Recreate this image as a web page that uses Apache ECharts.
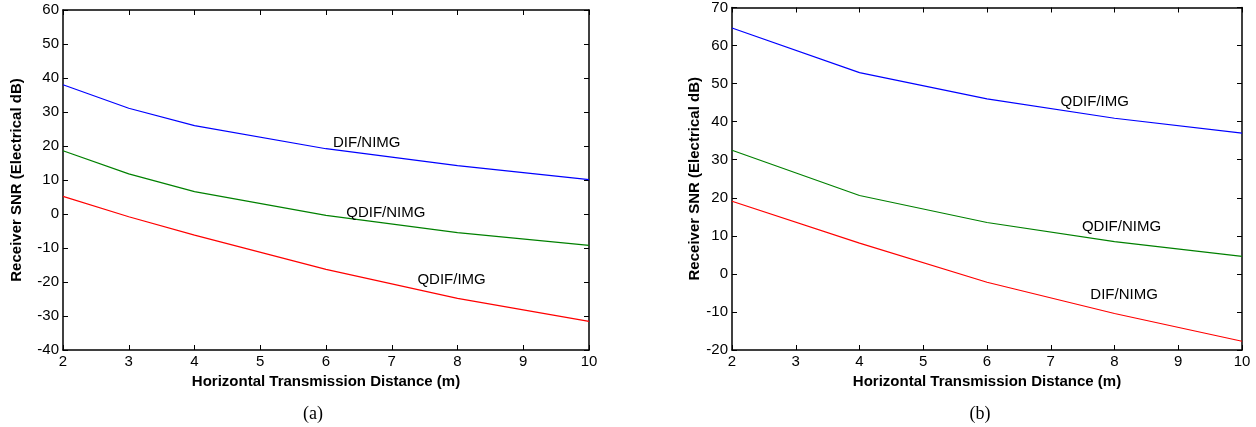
<!DOCTYPE html>
<html>
<head>
<meta charset="utf-8">
<script src="https://cdn.jsdelivr.net/npm/echarts@6/dist/echarts.min.js"></script>
<style>
  html, body { margin: 0; padding: 0; background: #fff; }
  #main { width: 1256px; height: 427px; }
</style>
</head>
<body>
<div id="main"></div>
<script>
// distances (m)
const distA = [2, 3, 4, 6, 8, 10];
const distB = [2, 4, 6, 8, 10];

// panel (a) SNR values (electrical dB)
const blueA = [38, 31.1, 26, 19.2, 14.2, 10.1];
const greenA = [18.6, 11.8, 6.6, -0.4, -5.5, -9.2];
const redA = [5.2, -0.8, -6.2, -16.3, -24.8, -31.6];

// panel (b)
const blueB = [64.6, 52.9, 46, 40.9, 37.0];
const greenB = [32.5, 20.6, 13.5, 8.5, 4.6];
const redB = [19.1, 8.1, -2.2, -10.4, -17.7];

// curve labels: [text, x, y] in data units
const labelsA = [['DIF/NIMG', 6.62, 20.9], ['QDIF/NIMG', 6.91, 0.3], ['QDIF/IMG', 7.91, -19.4]];
const labelsB = [['QDIF/IMG', 7.69, 45.1], ['QDIF/NIMG', 8.11, 12.3], ['DIF/NIMG', 8.15, -5.6]];

const xName = 'Horizontal Transmission Distance (m)';
const yName = 'Receiver SNR (Electrical dB)';
const font = 'Arial, "Liberation Sans", sans-serif';

window.onload = function () {
  const myChart = echarts.init(document.getElementById('main'));

  const pairs = (xs, ys) => xs.map((x, i) => [x, ys[i]]);

  const tick = { show: true, inside: true, length: 5, lineStyle: { color: '#000', width: 1 } };
  const line = { show: true, onZero: false, lineStyle: { color: '#000', width: 1.5 } };
  const lbl = { color: '#000', fontSize: 15, fontFamily: font };
  const nameStyle = { color: '#000', fontSize: 15, fontWeight: 'bold', fontFamily: font };

  function xAxes(g) {
    return [{
      type: 'value', gridIndex: g, position: 'bottom', min: 2, max: 10, interval: 1,
      axisLine: line, axisTick: tick, splitLine: { show: false },
      axisLabel: Object.assign({ margin: 4 }, lbl),
      name: xName, nameLocation: 'middle', nameGap: 22, nameTextStyle: nameStyle
    }, {
      type: 'value', gridIndex: g, position: 'top', min: 2, max: 10, interval: 1,
      axisLine: line, axisTick: tick, splitLine: { show: false }, axisLabel: { show: false }
    }];
  }

  function yAxes(g, min, max, gap) {
    return [{
      type: 'value', gridIndex: g, position: 'left', min: min, max: max, interval: 10,
      axisLine: line, axisTick: tick, splitLine: { show: false },
      axisLabel: Object.assign({ margin: 4 }, lbl),
      name: yName, nameLocation: 'middle', nameGap: gap, nameRotate: 90, nameTextStyle: nameStyle
    }, {
      type: 'value', gridIndex: g, position: 'right', min: min, max: max, interval: 10,
      axisLine: line, axisTick: tick, splitLine: { show: false }, axisLabel: { show: false }
    }];
  }

  function curve(xi, yi, xs, ys, color, labels) {
    const s = {
      type: 'line', xAxisIndex: xi, yAxisIndex: yi, data: pairs(xs, ys),
      showSymbol: false, symbol: 'none', smooth: false, animation: false,
      lineStyle: { color: color, width: 1.2 }, itemStyle: { color: color }
    };
    if (labels) {
      s.markPoint = {
        symbol: 'circle', symbolSize: 0, animation: false,
        data: labels.map(l => ({
          name: l[0], coord: [l[1], l[2]],
          label: { show: true, position: 'inside', formatter: l[0], color: '#000', fontSize: 15, fontFamily: font }
        }))
      };
    }
    return s;
  }

  const capStyle = { fontFamily: '"Liberation Serif", "Times New Roman", serif', fontWeight: 'normal', fontSize: 18, color: '#000' };

  const option = {
    animation: false,
    grid: [
      { left: 63, top: 10, width: 526, height: 340 },
      { left: 732, top: 7, width: 510, height: 343 }
    ],
    title: [
      { text: '(a)', left: 308, top: 400, textAlign: 'center', textStyle: capStyle },
      { text: '(b)', left: 975, top: 400, textAlign: 'center', textStyle: capStyle }
    ],
    xAxis: xAxes(0).concat(xAxes(1)),
    yAxis: yAxes(0, -40, 60, 39).concat(yAxes(1, -20, 70, 26)),
    series: [
      curve(0, 0, distA, blueA, '#0000ff', labelsA),
      curve(0, 0, distA, greenA, '#008000'),
      curve(0, 0, distA, redA, '#ff0000'),
      curve(2, 2, distB, blueB, '#0000ff', labelsB),
      curve(2, 2, distB, greenB, '#008000'),
      curve(2, 2, distB, redB, '#ff0000')
    ]
  };

  myChart.setOption(option, true);
};
</script>
</body>
</html>
